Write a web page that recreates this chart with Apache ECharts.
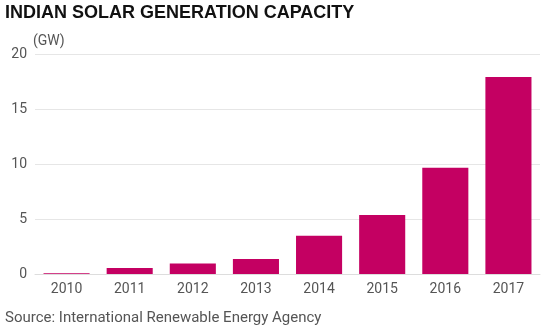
<!DOCTYPE html>
<html><head><meta charset="utf-8">
<script src="https://cdn.jsdelivr.net/npm/echarts@6/dist/echarts.min.js"></script>
<style>html,body{margin:0;padding:0;background:#fff}#c{width:560px;height:325px}</style>
</head><body><div id="c"></div>
<script>
const categories = ['2010','2011','2012','2013','2014','2015','2016','2017'];
const capacityGW = [0.07, 0.55, 0.95, 1.36, 3.48, 5.36, 9.65, 17.9];
const yTicks = [0, 5, 10, 15, 20];

const chart = echarts.init(document.getElementById('c'));
chart.setOption({
  animation: false,
  title: [
    {text: 'INDIAN SOLAR GENERATION CAPACITY', left: 0, top: -1,
     textStyle: {fontFamily: 'Liberation Sans', fontWeight: 'bold', fontSize: 18, color: '#111'}},
    {text: 'Source: International Renewable Energy Agency', left: 0, top: 306,
     textStyle: {fontFamily: 'Roboto', fontWeight: 'normal', fontSize: 15, color: '#555'}}
  ],
  grid: {left: 35, right: 20, top: 54, bottom: 51, containLabel: false},
  xAxis: {
    type: 'category', data: categories,
    axisLine: {lineStyle: {color: '#dddddd'}},
    axisTick: {show: false},
    axisLabel: {fontFamily: 'Roboto', fontSize: 14, color: '#555', margin: 8}
  },
  yAxis: {
    type: 'value', min: 0, max: 20, interval: 5,
    name: '(GW)', nameGap: 6,
    nameTextStyle: {fontFamily: 'Roboto', fontSize: 14, color: '#555', align: 'left', padding: [0,0,0,-2]},
    axisLine: {show: false}, axisTick: {show: false},
    splitLine: {lineStyle: {color: '#e6e6e6'}},
    axisLabel: {fontFamily: 'Roboto', fontSize: 14, color: '#555', margin: 8,
      formatter: v => yTicks.includes(v) ? String(v) : ''}
  },
  series: [{
    type: 'bar', data: capacityGW, barWidth: '73%',
    itemStyle: {color: '#c40062'}
  }]
});
</script></body></html>
